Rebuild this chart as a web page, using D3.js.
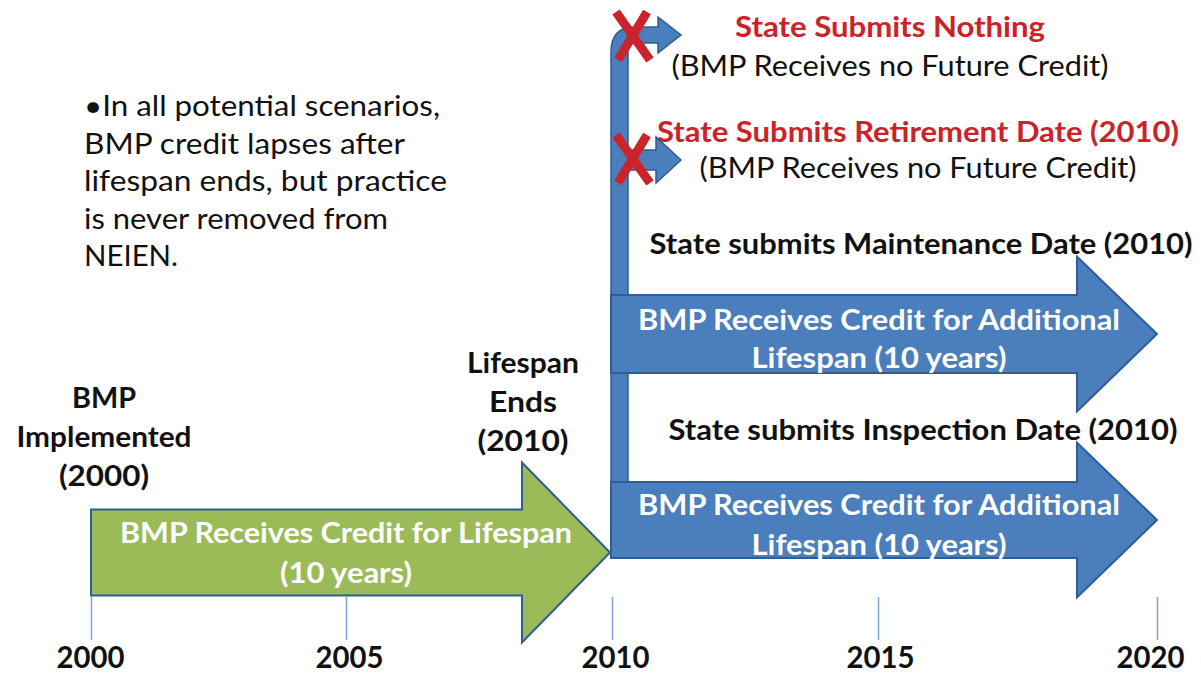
<!DOCTYPE html>
<html>
<head>
<meta charset="utf-8">
<script src="https://cdn.jsdelivr.net/npm/d3@7"></script>
<style>
    body { margin: 0; background: #fff; }
    svg text { font-family: Lato, "Open Sans", sans-serif; }
</style>
</head>
<body>
<div id="chart"></div>
<script>
    // timeline data
    const years = [2000, 2005, 2010, 2015, 2020];
    const phaseStart = [2000, 2010, 2010];
    const phaseEnd = [2010, 2020, 2020];
    const phaseLabels = [
        ['BMP Receives Credit for Lifespan', '(10 years)'],
        ['BMP Receives Credit for Additional', 'Lifespan (10 years)'],
        ['BMP Receives Credit for Additional', 'Lifespan (10  years)']
    ];
    const eventYears = [2000, 2010];
    const eventLabels = [
        ['BMP', 'Implemented', '(2000)'],
        ['Lifespan', 'Ends', '(2010)']
    ];
    const scenarioTitles = [
        'State Submits Nothing',
        'State Submits Retirement Date (2010)',
        'State submits Maintenance Date (2010)',
        'State submits Inspection Date (2010)'
    ];
    const scenarioNotes = ['(BMP Receives no Future Credit)', '(BMP Receives no Future Credit)'];
    const scenarioRejected = [true, true, false, false];
    const noteLines = [
        '\u2022In all potential scenarios,',
        'BMP credit lapses after',
        'lifespan ends, but practice',
        'is never removed from',
        'NEIEN.'
    ];

    const width = 1201, height = 673;
    const green = '#9bbb59', blue = '#4a7ebd', edge = '#2f5d94', red = '#cc2229';

    const svg = d3.select('#chart').append('svg')
        .attr('width', width)
        .attr('height', height);

    // the ticks are not evenly spaced in the source, so use a piecewise scale
    const x = d3.scaleLinear()
        .domain(years)
        .range([91, 346, 612, 878, 1157]);

    const fitText = (sel, w) => sel.attr('textLength', w).attr('lengthAdjust', 'spacingAndGlyphs');

    const addText = (str, px, py, opts) => {
        const t = svg.append('text')
            .attr('x', px)
            .attr('y', py)
            .attr('text-anchor', opts.anchor || 'middle')
            .attr('font-size', opts.size || 29)
            .attr('font-weight', opts.bold ? 700 : 400)
            .attr('fill', opts.color || '#111')
            .text(str);
        if (opts.w) fitText(t, opts.w);
        return t;
    };

    const arrowPath = (x0, x1, yc, body, head, headLen) => {
        const xh = x1 - headLen;
        return `M${x0},${yc - body / 2} L${xh},${yc - body / 2} L${xh},${yc - head / 2}
                L${x1},${yc} L${xh},${yc + head / 2} L${xh},${yc + body / 2}
                L${x0},${yc + body / 2} Z`;
    };

    // axis
    const axis = svg.append('g')
        .attr('transform', 'translate(0,597)')
        .call(d3.axisBottom(x).tickValues(years).tickFormat(d3.format('d')).tickSize(43).tickPadding(7));
    axis.select('.domain').remove();
    axis.selectAll('.tick line').attr('stroke', '#7fa2cf').attr('stroke-width', 1.5);
    axis.selectAll('.tick text')
        .attr('font-family', 'Lato, sans-serif')
        .attr('font-size', 30)
        .attr('font-weight', 700)
        .attr('fill', '#111')
        .attr('textLength', 68)
        .attr('lengthAdjust', 'spacingAndGlyphs');
    const labelShift = { 2000: -1, 2005: 3, 2010: 3, 2015: 2, 2020: -7 };
    axis.selectAll('.tick text').attr('x', d => labelShift[d]);

    // vertical connector bar with the curved top branch
    const bx0 = x(2010) - 1, bx1 = x(2010) + 16;
    svg.append('path')
        .attr('d', `M${bx0},482 L${bx0},52 Q${bx0},27 ${bx0 + 24},27 L658,27 L658,17 L681,35 L658,53 L658,43
                    L${bx1 + 6},43 Q${bx1},43 ${bx1},50 L${bx1},482 Z`)
        .attr('fill', blue)
        .attr('stroke', edge)
        .attr('stroke-width', 1.5);

    // second short branch
    svg.append('path')
        .attr('d', arrowPath(bx1, 681, 160, 20, 46, 25))
        .attr('fill', blue)
        .attr('stroke', edge)
        .attr('stroke-width', 1.5);

    // main arrows
    const phaseY = [552.5, 334, 520];
    const phaseBody = [86, 78, 76];
    const phaseHead = [180, 155, 155];
    const phaseHeadLen = [88, 80, 80];
    const phaseFill = [green, blue, blue];
    phaseStart.forEach((s, i) => {
        svg.append('path')
            .attr('d', arrowPath(x(s) - (i ? 1 : 0), x(phaseEnd[i]) - (i ? 0 : 2), phaseY[i], phaseBody[i], phaseHead[i], phaseHeadLen[i]))
            .attr('fill', phaseFill[i])
            .attr('stroke', edge)
            .attr('stroke-width', 2);
    });

    // text inside arrows
    const phaseTextX = [346, 879, 879];
    const phaseTextY = [[543, 583], [330, 368], [515, 555]];
    const phaseTextW = [[452, 132], [482, 255], [482, 255]];
    phaseLabels.forEach((lines, i) => {
        lines.forEach((line, j) => {
            addText(line, phaseTextX[i], phaseTextY[i][j], { bold: true, color: '#fff', w: phaseTextW[i][j] });
        });
    });

    // red crosses on rejected branches
    const crossY = [36, 159];
    scenarioRejected.filter(Boolean).forEach((_, i) => {
        const cx = 633, cy = crossY[i], hw = 17, hh = 24;
        svg.append('path')
            .attr('d', `M${cx - hw},${cy - hh} L${cx + hw},${cy + hh} M${cx + hw - 3},${cy - hh} L${cx - hw + 2},${cy + hh}`)
            .attr('stroke', red)
            .attr('stroke-width', 9)
            .attr('fill', 'none');
    });

    // scenario captions
    const titleX = [890, 918, 921, 923];
    const titleY = [37, 142, 254, 440];
    const titleW = [310, 522, 543, 509];
    scenarioTitles.forEach((t, i) => {
        addText(t, titleX[i], titleY[i], { bold: true, color: scenarioRejected[i] ? red : '#111', w: titleW[i] });
    });
    const noteX = [890, 918];
    const noteY = [76, 178];
    scenarioNotes.forEach((t, i) => addText(t, noteX[i], noteY[i], { w: 437 }));

    // event labels
    const eventOffset = [13, -89];
    const eventY = [408, 373];
    const eventW = [[64, 175, 90], [112, 68, 91]];
    eventLabels.forEach((lines, i) => {
        lines.forEach((line, j) => {
            addText(line, x(eventYears[i]) + eventOffset[i], eventY[i] + j * 39, { bold: true, w: eventW[i][j] });
        });
    });

    // side note
    const noteW = [356, 321, 363, 304, 94];
    noteLines.forEach((line, i) => {
        addText(line, 84, 116 + i * 37.5, { anchor: 'start', w: noteW[i] });
    });
</script>
</body>
</html>
